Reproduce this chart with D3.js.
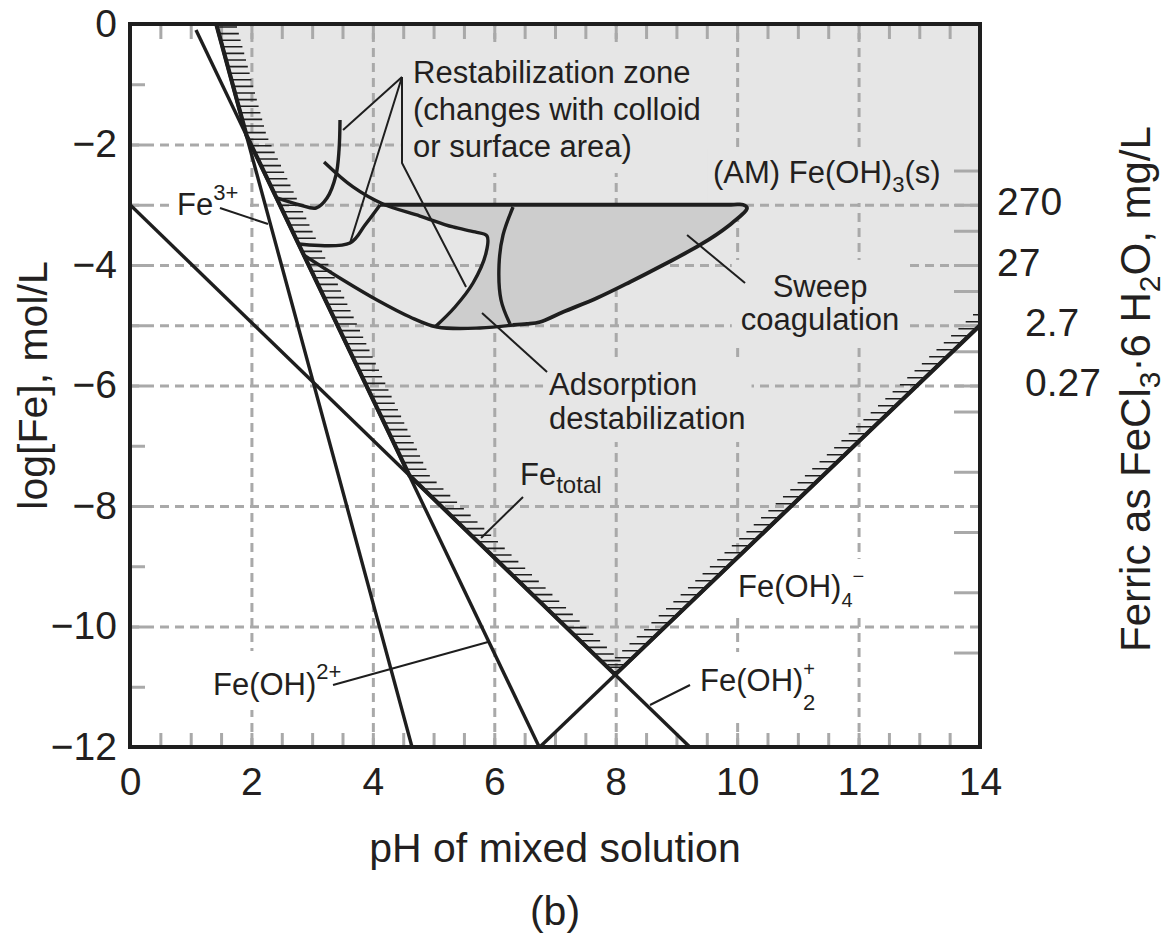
<!DOCTYPE html>
<html>
<head>
<meta charset="utf-8">
<script src="https://cdnjs.cloudflare.com/ajax/libs/d3/7.8.5/d3.min.js"></script>
<style>
  body { margin: 0; background: #fff; }
  svg text { font-family: "Liberation Sans", Arial, Helvetica, sans-serif; fill: #231f20; }
</style>
</head>
<body>
<div id="chart"></div>
<script>
// ---- axis values ----
const phTicks = [0, 2, 4, 6, 8, 10, 12, 14];
const logTicks = [0, -2, -4, -6, -8, -10, -12];
const vGrid = [2, 4, 6, 8, 10, 12];
const hGrid = [-3, -4, -5, -6, -8, -10];
const mgLabels = ["270", "27", "2.7", "0.27"];
const mgLabelLogs = [-3, -4, -5, -6];
const mgTickValues = [1000, 100, 10, 1, 0.1, 0.01, 0.001, 0.0001, 0.00001];
const molarMass = 270.3; // FeCl3·6H2O, g/mol

// ---- species lines [pH, log C] ----
const fe3Line = [[1.42, 0], [4.645, -12]];
const feOHLine = [[1.087, -0.1], [6.74, -12]];
const feOH2Line = [[0, -3], [9.22, -12]];
const feOH4Line = [[6.75, -12], [14, -5]];
const feTotal = [[1.42, 0], [1.92, -1.85], [4.60, -7.49], [7.99, -10.80], [14, -5.0]];

// ---- coagulation zones ----
const restabHook = [[3.459, -1.593], [3.443, -2.091], [3.393, -2.506], [3.245, -2.888], [3.064, -3.054], [2.80, -3.004], [2.43, -2.89]];
const restabCurve = [[3.196, -2.290], [3.673, -2.705], [4.167, -2.988], [4.777, -3.187], [5.320, -3.369], [5.683, -3.452], [5.880, -3.519], [5.864, -3.801], [5.650, -4.299], [5.353, -4.697], [5.024, -5.029]];
const restabLower = [[2.78, -3.651], [3.624, -3.635], [3.871, -3.336], [4.118, -3.004]];
const zoneBottom = [[2.86, -3.834], [3.509, -4.249], [4.068, -4.581], [4.612, -4.863], [5.057, -5.029], [5.765, -5.046], [6.309, -4.996]];
const sweepOutline = [[4.118, -3.0], [9.9, -3.0], [10.097, -3.0], [10.163, -3.054], [9.834, -3.369], [9.389, -3.668], [8.780, -4.0], [8.236, -4.282], [7.692, -4.548], [7.132, -4.780], [6.753, -4.946], [6.539, -4.979], [6.309, -4.996]];
const zoneDivider = [[6.309, -3.037], [6.144, -3.502], [6.078, -4.0], [6.111, -4.581], [6.259, -4.979]];

// ---- leader lines ----
const leaders = [
  [[4.48, -0.88], [3.509, -1.759]],
  [[4.48, -0.88], [3.624, -3.635]],
  [[4.48, -0.88], [4.48, -2.307], [5.535, -4.365]],
  [[5.798, -4.797], [6.869, -5.776]],
  [[9.175, -3.502], [10.130, -4.299]],
  [[6.473, -7.851], [5.782, -8.531]],
  [[1.482, -3.054], [2.273, -3.320]],
  [[3.344, -10.971], [5.897, -10.257]],
  [[9.224, -10.971], [8.565, -11.303]]
];

const width = 1171, height = 941;
const x = d3.scaleLinear().domain([0, 14]).range([130, 980]);
const y = d3.scaleLinear().domain([-12, 0]).range([747, 24]);
const gridColor = "#a9a9a9";
const shade = "#e6e6e6";
const ink = "#1e1e1e";

const svg = d3.select("#chart").append("svg")
  .attr("width", width)
  .attr("height", height);

const line = d3.line().x(d => x(d[0])).y(d => y(d[1]));
const smooth = d3.line().x(d => x(d[0])).y(d => y(d[1])).curve(d3.curveCatmullRom.alpha(0.5));

// layers, bottom to top
const gLight = svg.append("g");
const gGrid = svg.append("g");
const gBoxes = svg.append("g");
const gDark = svg.append("g");
const gHatch = svg.append("g");
const gLines = svg.append("g");
const gText = svg.append("g");
const gFrame = svg.append("g");

// precipitation region above Fe_total
const regionPath = line(feTotal.concat([[14, 0]])) + "Z";
svg.append("clipPath").attr("id", "region").append("path").attr("d", regionPath);
svg.append("clipPath").attr("id", "plot").append("rect")
  .attr("x", x(0)).attr("y", y(0)).attr("width", x(14) - x(0)).attr("height", y(-12) - y(0));
gLight.append("path").attr("d", regionPath).attr("fill", shade);

// dashed grid
function styleGrid(g) {
  g.select(".domain").remove();
  g.selectAll("line").attr("stroke", gridColor).attr("stroke-width", 3).attr("stroke-dasharray", "9,6");
}
gGrid.append("g")
  .attr("transform", "translate(0," + y(-12) + ")")
  .call(d3.axisBottom(x).tickValues(vGrid).tickSize(-(y(-12) - y(0))).tickFormat(""))
  .call(styleGrid);
gGrid.append("g")
  .attr("transform", "translate(" + x(0) + ",0)")
  .call(d3.axisLeft(y).tickValues(hGrid).tickSize(-(x(14) - x(0))).tickFormat(""))
  .call(styleGrid);
// the -2 line stops at the restabilization leader
gGrid.append("g")
  .attr("transform", "translate(" + x(0) + ",0)")
  .call(d3.axisLeft(y).tickValues([-2]).tickSize(-(x(4.45) - x(0))).tickFormat(""))
  .call(styleGrid);

// inner tick marks
function styleTicks(g) {
  g.select(".domain").remove();
  g.selectAll("line").attr("stroke", gridColor).attr("stroke-width", 3);
}
const halfSteps = d3.range(0.5, 14, 0.5);
gGrid.append("g").attr("transform", "translate(0," + y(0) + ")")
  .call(d3.axisTop(x).tickValues(halfSteps).tickSize(-15).tickFormat("")).call(styleTicks);
gGrid.append("g").attr("transform", "translate(0," + y(-12) + ")")
  .call(d3.axisBottom(x).tickValues(halfSteps).tickSize(-14).tickFormat("")).call(styleTicks);
gGrid.append("g").attr("transform", "translate(" + x(0) + ",0)")
  .call(d3.axisLeft(y).tickValues(d3.range(-11, 0, 1)).tickSize(-15).tickFormat("")).call(styleTicks);
const mgTickLogs = mgTickValues.map(v => Math.log10(v / (molarMass * 1000))).concat(mgLabelLogs);
gGrid.append("g").attr("transform", "translate(" + x(14) + ",0)")
  .call(d3.axisRight(y).tickValues(mgTickLogs).tickSize(-26).tickFormat("")).call(styleTicks);

// sweep + adsorption zone (darker)
const darkZone = sweepOutline
  .concat(zoneBottom.slice(-3, -1).reverse())
  .concat(restabCurve.slice(2).reverse());
gDark.append("path").attr("d", line(darkZone) + "Z").attr("fill", "#cdcdcd");

// hatching along Fe_total
function phAt(branch, v) {
  for (let i = 0; i < branch.length - 1; i++) {
    let a = branch[i], b = branch[i + 1];
    if ((v - a[1]) * (v - b[1]) <= 0) {
      return a[0] + (b[0] - a[0]) * (v - a[1]) / (b[1] - a[1]);
    }
  }
  return null;
}
const hatch = gHatch.append("g").attr("clip-path", "url(#region)")
  .attr("stroke", ink).attr("stroke-width", 1.6);
const leftBranch = feTotal.slice(0, 4), rightBranch = feTotal.slice(3);
for (let py = y(0) + 3; py < y(-10.8); py += 6.6) {
  let px = x(phAt(leftBranch, y.invert(py)));
  hatch.append("line").attr("x1", px).attr("x2", px + 20).attr("y1", py).attr("y2", py);
}
for (let py = y(-10.8) - 3; py > y(-5) - 24; py -= 7) {
  let v = y.invert(py);
  let px = v > -5 ? x(14) + (v + 5) / 0.9655 * (x(1) - x(0)) : x(phAt(rightBranch, v));
  hatch.append("line").attr("x1", px - 18).attr("x2", px).attr("y1", py).attr("y2", py);
}

// species lines
const lines = gLines.append("g").attr("clip-path", "url(#plot)")
  .attr("fill", "none").attr("stroke", ink);
[fe3Line, feOHLine, feOH2Line, feOH4Line].forEach(d => {
  lines.append("path").attr("d", line(d)).attr("stroke-width", 3.4);
});
lines.append("path").attr("d", line(feTotal)).attr("stroke-width", 4.2);

// zone boundaries
[restabHook, restabCurve, restabLower, zoneBottom, zoneDivider].forEach(d => {
  lines.append("path").attr("d", smooth(d)).attr("stroke-width", 3.4);
});
lines.append("path").attr("d", smooth(sweepOutline)).attr("stroke-width", 3.8).attr("stroke-linejoin", "round");

// leaders
leaders.forEach(d => {
  lines.append("path").attr("d", line(d)).attr("stroke-width", 2);
});

// labels; each block gets a plain box that hides the grid behind it
function addLabel(pos, rows, size, bg, anchor, gap, pad) {
  const block = gText.append("g");
  rows.forEach((parts, r) => {
    const t = block.append("text")
      .attr("x", x(pos[0]))
      .attr("y", y(pos[1]) + r * (gap || 0))
      .attr("font-size", size)
      .attr("text-anchor", anchor || "start");
    let shift = 0;
    parts.forEach(p => {
      const s = t.append("tspan").text(p.t);
      const target = p.dy || 0;
      s.attr("dy", target - shift);
      shift = target;
      if (p.size) s.attr("font-size", p.size);
      if (p.dx) s.attr("dx", p.dx);
    });
  });
  const b = block.node().getBBox();
  pad = pad || 5;
  gBoxes.append("rect")
    .attr("x", b.x - pad).attr("y", b.y - pad)
    .attr("width", b.width + 2 * pad).attr("height", b.height + 2 * pad)
    .attr("fill", bg);
}
const annSize = 31;
addLabel([4.662, -0.979], [[{t: "Restabilization zone"}], [{t: "(changes with colloid"}], [{t: "or surface area)"}]], annSize, shade, "start", 37, 9);
addLabel([9.603, -2.639], [[{t: "(AM) Fe(OH)"}, {t: "3", dy: 9, size: 22}, {t: "(s)", dy: 0}]], annSize, shade, "start", 0, 6);
addLabel([11.366, -4.531], [[{t: "Sweep"}], [{t: "coagulation"}]], annSize, shade, "middle", 33, 9);
addLabel([6.902, -6.158], [[{t: "Adsorption"}], [{t: "destabilization"}]], annSize, shade, "start", 34, 6);
addLabel([6.424, -7.651], [[{t: "Fe"}, {t: "total", dy: 8, size: 24}]], annSize, shade, "start", 0, 3);
addLabel([0.774, -3.170], [[{t: "Fe"}, {t: "3+", dy: -15, size: 22}]], annSize, "#fff", "start", 0, 7);
addLabel([1.367, -11.137], [[{t: "Fe(OH)"}, {t: "2+", dy: -16, size: 22}]], annSize, "#fff", "start", 0, 8);
addLabel([10.015, -9.510], [[{t: "Fe(OH)"}, {t: "4", dy: 10, size: 20}, {t: "\u2212", dy: -14, size: 20}]], annSize, "#fff", "start", 0, 6);
addLabel([9.389, -11.071], [[{t: "Fe(OH)"}, {t: "+", dy: -15, size: 20}, {t: "2", dy: 19, size: 22, dx: -12}]], annSize, "#fff", "start", 0, 6);

// axes labels
const tickSize = 39;
gText.append("g").attr("transform", "translate(0," + y(-12) + ")")
  .call(d3.axisBottom(x).tickValues(phTicks).tickSize(0).tickPadding(20).tickFormat(d3.format("d")))
  .call(g => g.select(".domain").remove())
  .selectAll("text").attr("font-size", tickSize).attr("font-family", null).attr("fill", null);
gText.append("g").attr("transform", "translate(" + x(0) + ",0)")
  .call(d3.axisLeft(y).tickValues(logTicks).tickSize(0).tickPadding(13).tickFormat(d3.format("d")))
  .call(g => g.select(".domain").remove())
  .selectAll("text").attr("font-size", tickSize).attr("font-family", null).attr("fill", null);
gText.append("g").attr("transform", "translate(" + x(14) + ",0)")
  .call(d3.axisRight(y).tickValues(mgLabelLogs).tickSize(0).tickFormat((d, i) => mgLabels[i]))
  .call(g => g.select(".domain").remove())
  .selectAll("text")
  .attr("x", (d, i) => +mgLabels[i] < 10 ? 45 : 17)
  .attr("dy", "0.26em")
  .attr("font-size", tickSize).attr("font-family", null).attr("fill", null);

gText.append("text").attr("x", (x(0) + x(14)) / 2).attr("y", 862)
  .attr("text-anchor", "middle").attr("font-size", 41).text("pH of mixed solution");
gText.append("text").attr("x", (x(0) + x(14)) / 2).attr("y", 925)
  .attr("text-anchor", "middle").attr("font-size", 41).text("(b)");
gText.append("text")
  .attr("transform", "translate(47," + ((y(0) + y(-12)) / 2) + ") rotate(-90)")
  .attr("text-anchor", "middle").attr("font-size", 41).text("log[Fe], mol/L");
const rt = gText.append("text")
  .attr("transform", "translate(1150,389) rotate(-90)")
  .attr("text-anchor", "middle").attr("font-size", 42);
rt.append("tspan").text("Ferric as FeCl");
rt.append("tspan").text("3").attr("font-size", 30).attr("dy", 10);
rt.append("tspan").text("\u00b76 H").attr("dy", -10);
rt.append("tspan").text("2").attr("font-size", 30).attr("dy", 10);
rt.append("tspan").text("O, mg/L").attr("dy", -10);

// frame
gFrame.append("rect")
  .attr("x", x(0)).attr("y", y(0))
  .attr("width", x(14) - x(0)).attr("height", y(-12) - y(0))
  .attr("fill", "none").attr("stroke", ink).attr("stroke-width", 4);
</script>
</body>
</html>
